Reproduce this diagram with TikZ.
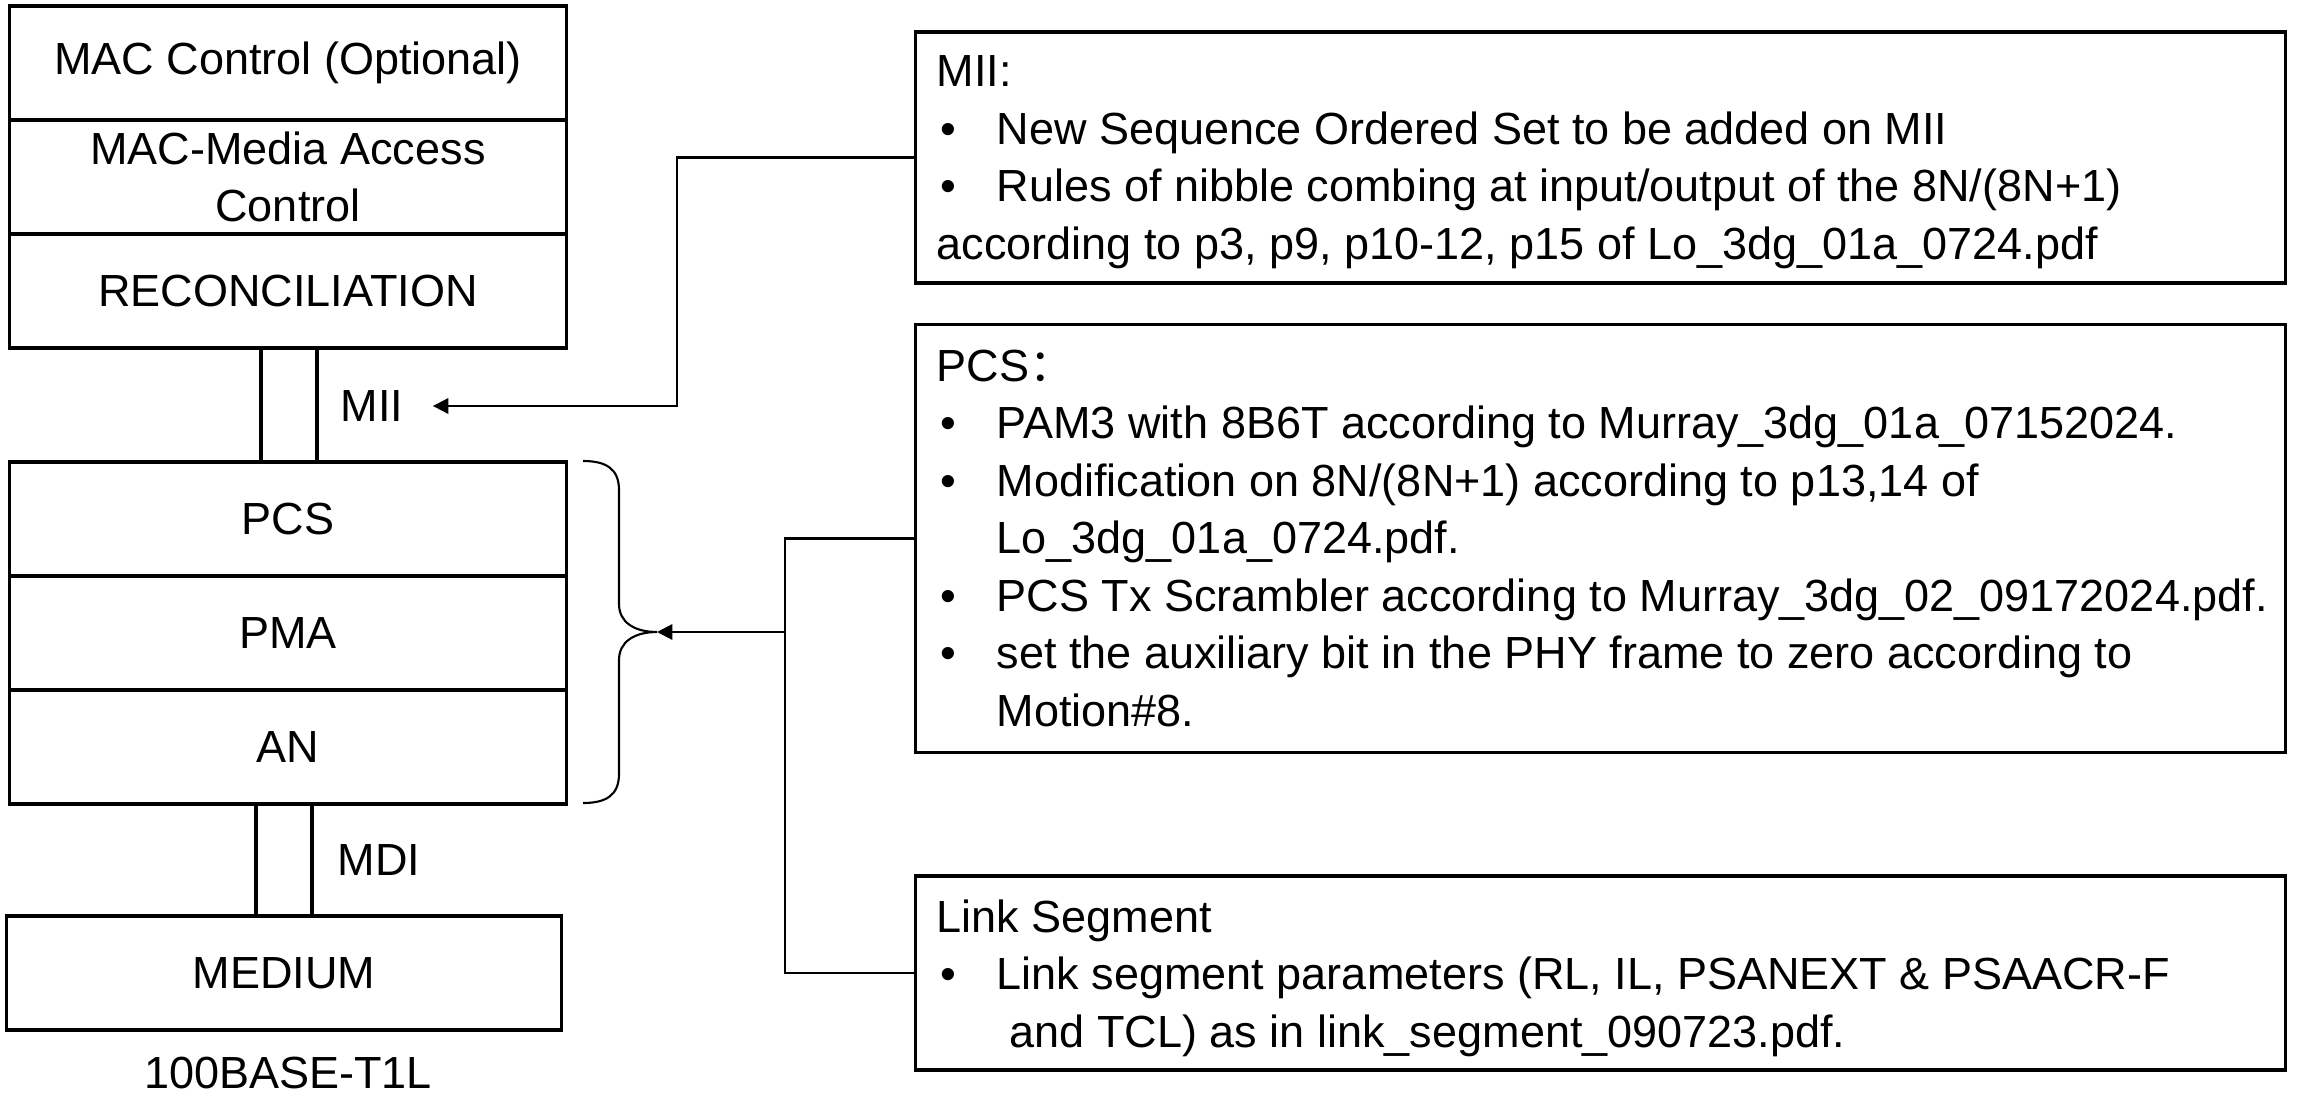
\documentclass[tikz,border=0pt]{standalone}
\usepackage{fontspec}
\setmainfont{Liberation Sans}
\newfontfamily\cjkfont{Noto Sans CJK SC}
\usetikzlibrary{arrows.meta,calc}

\newcommand{\layerfont}{\fontsize{12.8pt}{16.4pt}\selectfont}
\newcommand{\notefont}{\fontsize{12.8pt}{16.36pt}\selectfont}
\newcommand{\bul}{\makebox[0.6cm][l]{\hspace{0.04cm}\textbullet}}

\tikzset{
  layer/.style={draw, line width=0.9pt, minimum width=5.56cm, minimum height=1.14cm,
    inner sep=0pt, align=center, font=\layerfont},
  port/.style={draw, line width=0.9pt, minimum width=0.56cm, inner sep=0pt},
  portlbl/.style={anchor=west, inner sep=0pt, font=\layerfont},
  notebox/.style={draw, line width=0.9pt, minimum width=13.69cm, inner sep=0pt},
  notetext/.style={anchor=north west, inner sep=0pt, align=left, font=\notefont},
  conn/.style={line width=0.6pt},
  pointer/.style={-{Triangle[length=4.4pt,width=4.4pt]}}
}

\begin{document}
\begin{tikzpicture}[x=0.01cm,y=-0.01cm]
\useasboundingbox (0,0) rectangle (2298,1097);

% layer stack
\node[layer] (macctrl) at (288,63) {MAC Control (Optional)};
\node[layer] (mac) at (288,177) {MAC-Media Access\\Control};
\node[layer] (rs) at (288,291) {RECONCILIATION};
\node[port, minimum height=1.14cm] (mii) at (289,405) {};
\node[layer] (pcs) at (288,519) {PCS};
\node[layer] (pma) at (288,633) {PMA};
\node[layer] (an) at (288,747) {AN};
\node[port, minimum height=1.12cm] (mdi) at (284,860) {};
\node[layer, minimum width=5.54cm] (medium) at (284,973) {MEDIUM};

\node[portlbl] (miilbl) at (340,406) {MII};
\node[portlbl] (mdilbl) at (337,860) {MDI};
\node[anchor=base, inner sep=0pt, font=\layerfont] (phyname) at (288,1088) {100BASE-T1L};

% brace round PCS/PMA/AN
\coordinate (bracetip) at (657,632);
\draw[conn] (583,461) .. controls (605,461) and (619,468) .. (619,490) -- (619,604)
  .. controls (619,622) and (634,632) .. (bracetip)
  .. controls (634,632) and (619,642) .. (619,660) -- (619,774)
  .. controls (619,796) and (605,803) .. (583,803);

% notes
\node[notebox, minimum height=2.51cm] (miibox) at (1600.5,157.5) {};
\node[notetext] (miitxt) at (936,55) {MII:\\
\bul New Sequence Ordered Set to be added on MII\\
\bul Rules of nibble combing at input/output of the 8N/(8N+1)\\
according to p3, p9, p10-12, p15 of Lo\_3dg\_01a\_0724.pdf};

\node[notebox, minimum height=4.27cm] (pcsbox) at (1600.5,538.5) {};
\node[notetext] (pcstxt) at (936,349) {PCS{\cjkfont ：}\\
\bul PAM3 with 8B6T according to Murray\_3dg\_01a\_07152024.\\
\bul Modification on 8N/(8N+1) according to p13,14 of\\
\hspace*{0.6cm}Lo\_3dg\_01a\_0724.pdf.\\
\bul PCS Tx Scrambler according to Murray\_3dg\_02\_09172024.pdf.\\
\bul set the auxiliary bit in the PHY frame to zero according to\\
\hspace*{0.6cm}Motion\#8.};

\node[notebox, minimum height=1.94cm] (linkbox) at (1600.5,973) {};
\node[notetext] (linktxt) at (936,899) {Link Segment\\
\bul Link segment parameters (RL, IL, PSANEXT \& PSAACR-F\\
\hspace*{0.73cm}and TCL) as in link\_segment\_090723.pdf.};

% connectors
\coordinate (miiend) at ($(miilbl.east)+(29,0)$);
\draw[conn,pointer] (miibox.west) -| ($(miiend)+(244,0)$) -- (miiend);

\coordinate (joint) at (785,632);
\draw[conn,pointer] (pcsbox.west) -| (joint) -- (bracetip);
\draw[conn] (linkbox.west) -| (joint);
\end{tikzpicture}
\end{document}
